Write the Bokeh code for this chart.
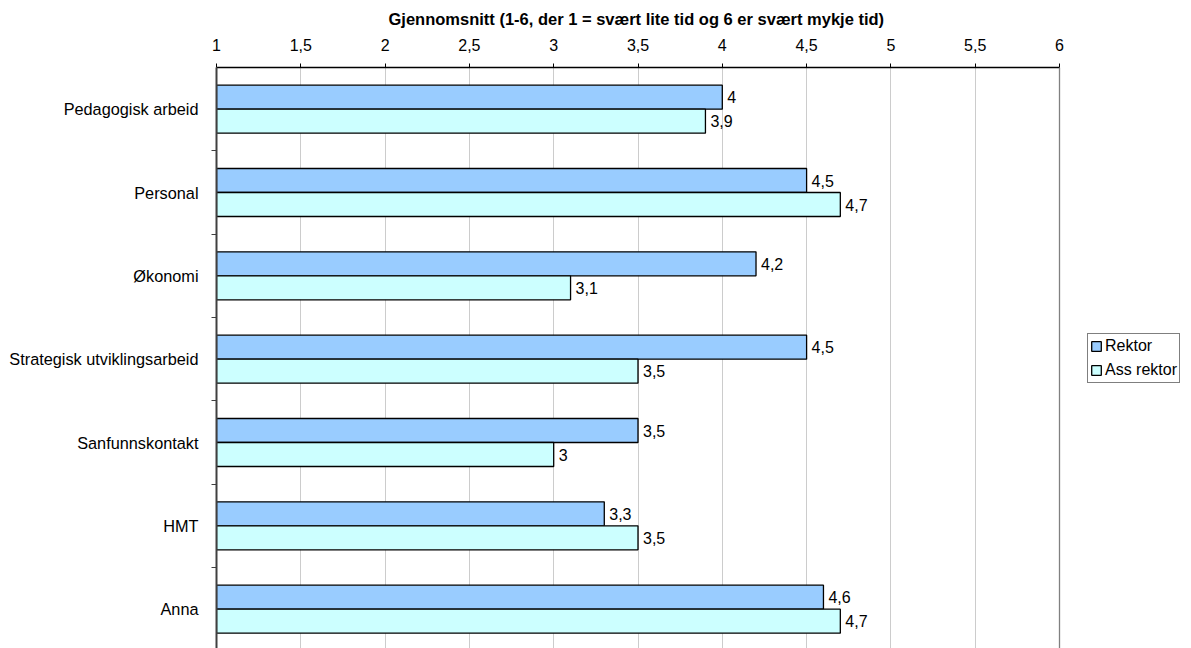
from bokeh.plotting import figure
from bokeh.models import Range1d, FixedTicker, Span, ColumnDataSource, Legend, LegendItem
from bokeh.core.properties import value
from bokeh.embed import file_html
from bokeh.resources import INLINE

categories = ["Pedagogisk arbeid", "Personal", "Økonomi", "Strategisk utviklingsarbeid",
              "Sanfunnskontakt", "HMT", "Anna"]
rektor = [4, 4.5, 4.2, 4.5, 3.5, 3.3, 4.6]
ass_rektor = [3.9, 4.7, 3.1, 3.5, 3, 3.5, 4.7]
series_names = ["Rektor", "Ass rektor"]
x_ticks = [1, 1.5, 2, 2.5, 3, 3.5, 4, 4.5, 5, 5.5, 6]
x_tick_labels = ["1", "1,5", "2", "2,5", "3", "3,5", "4", "4,5", "5", "5,5", "6"]
axis_title = "Gjennomsnitt (1-6, der 1 = svært lite tid og 6 er svært mykje tid)"

FONT = "Liberation Sans"
n = len(categories)
centers = [n - 0.5 - i for i in range(n)]
boundaries = [float(i) for i in range(1, n)]
bar_h = 0.288

# frame spans 216..1191 px; value 1 at 216, value 6 at 1059
x_end = 1 + 5 * (1191 - 216) / (1059 - 216)


def fmt(v):
    s = ("%g" % v)
    return s.replace(".", ",")


p = figure(width=1191, height=648, x_range=Range1d(1, x_end), y_range=Range1d(0.028, 7),
           x_axis_location="above", output_backend="svg", toolbar_location=None,
           min_border_left=216, min_border_right=0, min_border_top=67, min_border_bottom=0)
p.outline_line_color = None
p.background_fill_color = "white"
p.border_fill_color = "white"

p.title.text = axis_title
p.title.align = "left"
p.title.offset = 172
p.title.text_font = FONT
p.title.text_font_size = "16.5px"
p.title.text_font_style = "bold"
p.title.text_color = "black"
p.title.standoff = 15

src_r = ColumnDataSource(dict(y=[c + bar_h / 2 for c in centers], right=rektor,
                              lab=[fmt(v) for v in rektor]))
src_a = ColumnDataSource(dict(y=[c - bar_h / 2 for c in centers], right=ass_rektor,
                              lab=[fmt(v) for v in ass_rektor]))

r1 = p.hbar(y="y", left=1, right="right", height=bar_h, source=src_r, fill_color="#99CCFF",
            line_color="black", line_width=1.3)
r2 = p.hbar(y="y", left=1, right="right", height=bar_h, source=src_a, fill_color="#CCFFFF",
            line_color="black", line_width=1.3)

for src in (src_r, src_a):
    p.text(x="right", y="y", text="lab", source=src, x_offset=5, text_baseline="middle",
           text_align="left", text_font=value(FONT), text_font_size="16px", text_color="black")

p.add_layout(Span(location=6, dimension="height", line_color="#808080", line_width=1.3))

# x axis (top)
xa = p.xaxis[0]
xa.bounds = (1, 6)
xa.ticker = FixedTicker(ticks=x_ticks, minor_ticks=[])
xa.major_label_overrides = {t: l for t, l in zip(x_ticks, x_tick_labels)}
xa.major_tick_out = 4
xa.major_tick_in = 0
xa.minor_tick_out = 0
xa.minor_tick_in = 0
xa.axis_line_color = "black"
xa.axis_line_width = 1.5
xa.major_tick_line_color = "black"
xa.major_label_text_font = FONT
xa.major_label_text_font_size = "16px"
xa.major_label_text_color = "black"
xa.major_label_standoff = 13

# y axis (left)
ya = p.yaxis[0]
ya.ticker = FixedTicker(ticks=centers, minor_ticks=boundaries)
ya.major_label_overrides = {c: name for c, name in zip(centers, categories)}
ya.major_tick_out = 0
ya.major_tick_in = 0
ya.minor_tick_out = 5
ya.minor_tick_in = 0
ya.minor_tick_line_color = "#404040"
ya.axis_line_color = "#404040"
ya.axis_line_width = 2
ya.major_label_text_font = FONT
ya.major_label_text_font_size = "16.3px"
ya.major_label_text_color = "black"
ya.major_label_standoff = 13

p.xgrid.grid_line_color = "#cccccc"
p.xgrid.grid_line_width = 1
p.ygrid.grid_line_color = None

lg = Legend(items=[LegendItem(label=series_names[0], renderers=[r1]),
                   LegendItem(label=series_names[1], renderers=[r2])])
lg.location = (871, 265)
lg.border_line_color = "black"
lg.border_line_width = 1
lg.background_fill_color = "white"
lg.background_fill_alpha = 1
lg.label_text_font = FONT
lg.label_text_font_size = "16px"
lg.label_text_color = "black"
lg.glyph_width = 12
lg.glyph_height = 12
lg.label_height = 20
lg.label_standoff = 3
lg.spacing = 4
lg.padding = 2
lg.margin = 0
p.add_layout(lg, "center")

open("out.html", "w").write(file_html(p, INLINE))
